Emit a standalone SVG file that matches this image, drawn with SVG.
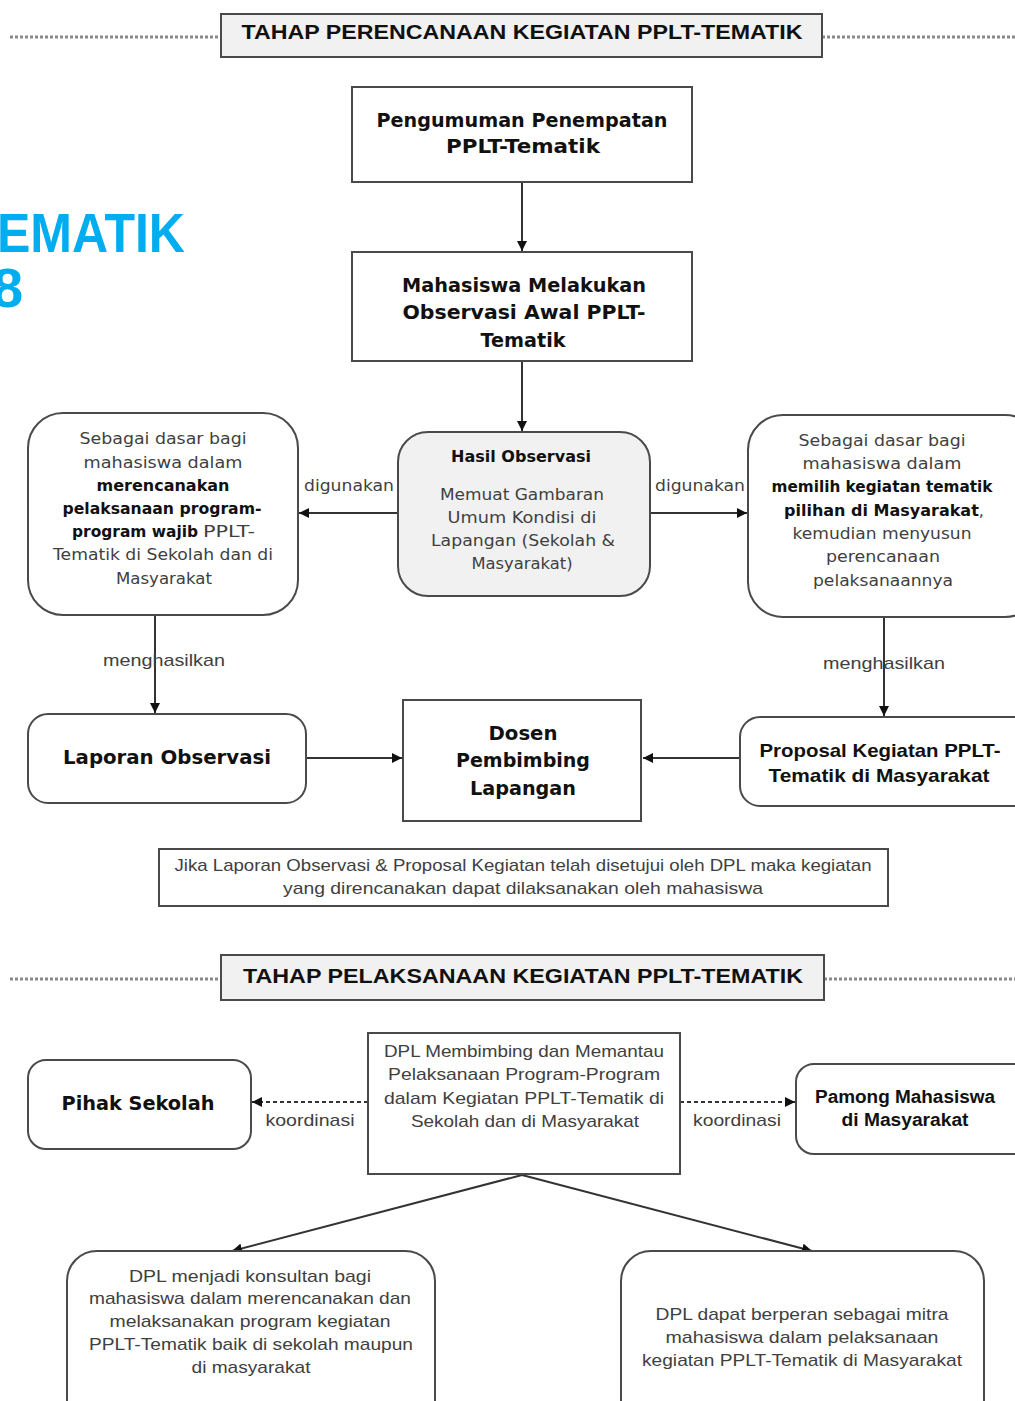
<svg xmlns="http://www.w3.org/2000/svg" width="1015" height="1401" viewBox="0 0 1015 1401">
<defs>
<marker id="arr" markerUnits="userSpaceOnUse" markerWidth="10" markerHeight="10" refX="10" refY="5" orient="auto">
<path d="M0,0 L10,5 L0,10 z" fill="#111"/>
</marker>
<style>
.box{fill:#fff;stroke:#4a4a4a;stroke-width:2}
.grey{fill:#f1f1f1;stroke:#4a4a4a;stroke-width:2}
.dot{stroke:#8a8a8a;stroke-width:3;stroke-dasharray:3 2;fill:none}
.ln{stroke:#333;stroke-width:2;fill:none}
.dash{stroke:#333;stroke-width:2;stroke-dasharray:4 3;fill:none}
.hd{font-family:"Liberation Sans",Arial,sans-serif;font-weight:bold;font-size:21px;fill:#111;text-anchor:middle}
.tb{font-family:"DejaVu Sans",Verdana,sans-serif;font-weight:bold;font-size:19px;fill:#111;text-anchor:middle}
.bd{font-family:"DejaVu Sans",Verdana,sans-serif;font-size:16px;fill:#404040;text-anchor:middle}
.bb{font-family:"DejaVu Sans",Verdana,sans-serif;font-weight:bold;font-size:16px;fill:#111;text-anchor:middle}
.cn{font-family:"Liberation Sans",Arial,sans-serif;font-size:17px;fill:#404040;text-anchor:middle}
.cb{font-family:"Liberation Sans",Arial,sans-serif;font-weight:bold;font-size:19px;fill:#111;text-anchor:middle}
.blue{font-family:"Liberation Sans",Arial,sans-serif;font-weight:bold;font-size:56px;fill:#00aeef}
</style>
</defs>
<rect width="1015" height="1401" fill="#fff"/>

<g id="title-bg">
<text class="blue" x="-3" y="252" textLength="188" lengthAdjust="spacingAndGlyphs">EMATIK</text>
<text class="blue" x="-8" y="307">8</text>
</g>

<g id="header1">
<line class="dot" x1="10" y1="37" x2="221" y2="37"/>
<line class="dot" x1="822" y1="37" x2="1015" y2="37"/>
<rect class="grey" x="221" y="14" width="601" height="43"/>
<text class="hd" x="522" y="39" textLength="561" lengthAdjust="spacingAndGlyphs">TAHAP PERENCANAAN KEGIATAN PPLT-TEMATIK</text>
</g>

<g id="connectors">
<line class="ln" x1="522" y1="182" x2="522" y2="251" marker-end="url(#arr)"/>
<line class="ln" x1="522" y1="361" x2="522" y2="431" marker-end="url(#arr)"/>
<line class="ln" x1="398" y1="513" x2="299" y2="513" marker-end="url(#arr)"/>
<line class="ln" x1="650" y1="513" x2="747" y2="513" marker-end="url(#arr)"/>
<line class="ln" x1="155" y1="615" x2="155" y2="713" marker-end="url(#arr)"/>
<line class="ln" x1="884" y1="617" x2="884" y2="716" marker-end="url(#arr)"/>
<line class="ln" x1="306" y1="758" x2="402" y2="758" marker-end="url(#arr)"/>
<line class="ln" x1="740" y1="758" x2="643" y2="758" marker-end="url(#arr)"/>
<line class="dash" x1="368" y1="1102" x2="252" y2="1102" marker-end="url(#arr)"/>
<line class="dash" x1="680" y1="1102" x2="795" y2="1102" marker-end="url(#arr)"/>
<line class="ln" x1="522" y1="1175" x2="232" y2="1251" marker-end="url(#arr)"/>
<line class="ln" x1="522" y1="1175" x2="812" y2="1251" marker-end="url(#arr)"/>
<text class="bd" x="349" y="491" textLength="90" lengthAdjust="spacingAndGlyphs">digunakan</text>
<text class="bd" x="700" y="491" textLength="90" lengthAdjust="spacingAndGlyphs">digunakan</text>
<text class="cn" x="164" y="666" textLength="122" lengthAdjust="spacingAndGlyphs">menghasilkan</text>
<text class="cn" x="884" y="669" textLength="122" lengthAdjust="spacingAndGlyphs">menghasilkan</text>
<text class="cn" x="310" y="1126" textLength="89" lengthAdjust="spacingAndGlyphs">koordinasi</text>
<text class="cn" x="737" y="1126" textLength="88" lengthAdjust="spacingAndGlyphs">koordinasi</text>
</g>

<g id="pengumuman">
<rect class="box" x="352" y="87" width="340" height="95"/>
<text class="tb" x="522" y="127" textLength="291" lengthAdjust="spacingAndGlyphs">Pengumuman Penempatan</text>
<text class="tb" x="523" y="153" textLength="154" lengthAdjust="spacingAndGlyphs">PPLT-Tematik</text>
</g>

<g id="observasi-awal">
<rect class="box" x="352" y="252" width="340" height="109"/>
<text class="tb" x="524" y="292" textLength="244" lengthAdjust="spacingAndGlyphs">Mahasiswa Melakukan</text>
<text class="tb" x="524" y="319" textLength="243" lengthAdjust="spacingAndGlyphs">Observasi Awal PPLT-</text>
<text class="tb" x="523" y="347" textLength="85" lengthAdjust="spacingAndGlyphs">Tematik</text>
</g>

<g id="hasil-observasi">
<rect class="grey" x="398" y="432" width="252" height="164" rx="30"/>
<text class="bb" x="521" y="462" textLength="140" lengthAdjust="spacingAndGlyphs">Hasil Observasi</text>
<text class="bd" x="522" y="500" textLength="164" lengthAdjust="spacingAndGlyphs">Memuat Gambaran</text>
<text class="bd" x="522" y="523" textLength="149" lengthAdjust="spacingAndGlyphs">Umum Kondisi di</text>
<text class="bd" x="523" y="546" textLength="184" lengthAdjust="spacingAndGlyphs">Lapangan (Sekolah &amp;</text>
<text class="bd" x="522" y="569" textLength="101" lengthAdjust="spacingAndGlyphs">Masyarakat)</text>
</g>

<g id="dasar-kiri">
<rect class="box" x="28" y="413" width="270" height="202" rx="35"/>
<text class="bd" x="163" y="444" textLength="167" lengthAdjust="spacingAndGlyphs">Sebagai dasar bagi</text>
<text class="bd" x="163" y="468" textLength="159" lengthAdjust="spacingAndGlyphs">mahasiswa dalam</text>
<text class="bb" x="163" y="491" textLength="133" lengthAdjust="spacingAndGlyphs">merencanakan</text>
<text class="bb" x="162" y="514" textLength="199" lengthAdjust="spacingAndGlyphs">pelaksanaan program-</text>
<text class="bb" x="72" y="537" style="text-anchor:start" textLength="126" lengthAdjust="spacingAndGlyphs">program wajib</text>
<text class="bd" x="203" y="537" style="text-anchor:start" textLength="52" lengthAdjust="spacingAndGlyphs">PPLT-</text>
<text class="bd" x="163" y="560" textLength="220" lengthAdjust="spacingAndGlyphs">Tematik di Sekolah dan di</text>
<text class="bd" x="164" y="584" textLength="96" lengthAdjust="spacingAndGlyphs">Masyarakat</text>
</g>

<g id="dasar-kanan">
<rect class="box" x="748" y="415" width="292" height="202" rx="35"/>
<text class="bd" x="882" y="446" textLength="167" lengthAdjust="spacingAndGlyphs">Sebagai dasar bagi</text>
<text class="bd" x="882" y="469" textLength="159" lengthAdjust="spacingAndGlyphs">mahasiswa dalam</text>
<text class="bb" x="882" y="492" textLength="221" lengthAdjust="spacingAndGlyphs">memilih kegiatan tematik</text>
<text class="bb" x="784" y="516" style="text-anchor:start">pilihan di Masyarakat<tspan style="font-weight:normal;fill:#404040">,</tspan></text>
<text class="bd" x="882" y="539" textLength="179" lengthAdjust="spacingAndGlyphs">kemudian menyusun</text>
<text class="bd" x="883" y="562" textLength="114" lengthAdjust="spacingAndGlyphs">perencanaan</text>
<text class="bd" x="883" y="586" textLength="140" lengthAdjust="spacingAndGlyphs">pelaksanaannya</text>
</g>

<g id="laporan-observasi">
<rect class="box" x="28" y="714" width="278" height="89" rx="20"/>
<text class="tb" x="167" y="764" textLength="208" lengthAdjust="spacingAndGlyphs">Laporan Observasi</text>
</g>

<g id="dosen-pembimbing">
<rect class="box" x="403" y="700" width="238" height="121"/>
<text class="tb" x="523" y="740" textLength="69" lengthAdjust="spacingAndGlyphs">Dosen</text>
<text class="tb" x="523" y="767" textLength="134" lengthAdjust="spacingAndGlyphs">Pembimbing</text>
<text class="tb" x="523" y="795" textLength="106" lengthAdjust="spacingAndGlyphs">Lapangan</text>
</g>

<g id="proposal">
<rect class="box" x="740" y="717" width="300" height="89" rx="20"/>
<text class="cb" x="880" y="757" textLength="241" lengthAdjust="spacingAndGlyphs">Proposal Kegiatan PPLT-</text>
<text class="cb" x="879" y="782" textLength="221" lengthAdjust="spacingAndGlyphs">Tematik di Masyarakat</text>
</g>

<g id="catatan">
<rect class="box" x="159" y="849" width="729" height="57"/>
<text class="cn" x="523" y="871" textLength="697" lengthAdjust="spacingAndGlyphs">Jika Laporan Observasi &amp; Proposal Kegiatan telah disetujui oleh DPL maka kegiatan</text>
<text class="cn" x="523" y="894" textLength="480" lengthAdjust="spacingAndGlyphs">yang direncanakan dapat dilaksanakan oleh mahasiswa</text>
</g>

<g id="header2">
<line class="dot" x1="10" y1="979" x2="221" y2="979"/>
<line class="dot" x1="824" y1="979" x2="1015" y2="979"/>
<rect class="grey" x="221" y="955" width="603" height="45"/>
<text class="hd" x="523" y="983" textLength="560" lengthAdjust="spacingAndGlyphs">TAHAP PELAKSANAAN  KEGIATAN PPLT-TEMATIK</text>
</g>

<g id="dpl-membimbing">
<rect class="box" x="368" y="1033" width="312" height="141"/>
<text class="cn" x="524" y="1057" textLength="280" lengthAdjust="spacingAndGlyphs">DPL Membimbing dan Memantau</text>
<text class="cn" x="524" y="1080" textLength="272" lengthAdjust="spacingAndGlyphs">Pelaksanaan Program-Program</text>
<text class="cn" x="524" y="1104" textLength="280" lengthAdjust="spacingAndGlyphs">dalam Kegiatan PPLT-Tematik di</text>
<text class="cn" x="525" y="1127" textLength="228" lengthAdjust="spacingAndGlyphs">Sekolah dan di Masyarakat</text>
</g>

<g id="pihak-sekolah">
<rect class="box" x="28" y="1060" width="223" height="89" rx="18"/>
<text class="tb" x="138" y="1110" textLength="153" lengthAdjust="spacingAndGlyphs">Pihak Sekolah</text>
</g>

<g id="pamong">
<rect class="box" x="796" y="1064" width="240" height="90" rx="18"/>
<text class="cb" x="905" y="1103" style="font-size:18px" textLength="180" lengthAdjust="spacingAndGlyphs">Pamong Mahasiswa</text>
<text class="cb" x="905" y="1126" style="font-size:18px" textLength="127" lengthAdjust="spacingAndGlyphs">di Masyarakat</text>
</g>

<g id="konsultan">
<rect class="box" x="67" y="1251" width="368" height="180" rx="30"/>
<text class="cn" x="250" y="1282" textLength="242" lengthAdjust="spacingAndGlyphs">DPL menjadi konsultan bagi</text>
<text class="cn" x="250" y="1304" textLength="322" lengthAdjust="spacingAndGlyphs">mahasiswa dalam merencanakan dan</text>
<text class="cn" x="250" y="1327" textLength="281" lengthAdjust="spacingAndGlyphs">melaksanakan program kegiatan</text>
<text class="cn" x="251" y="1350" textLength="324" lengthAdjust="spacingAndGlyphs">PPLT-Tematik baik di sekolah maupun</text>
<text class="cn" x="251" y="1373" textLength="119" lengthAdjust="spacingAndGlyphs">di masyarakat</text>
</g>

<g id="mitra">
<rect class="box" x="621" y="1251" width="363" height="180" rx="30"/>
<text class="cn" x="802" y="1320" textLength="293" lengthAdjust="spacingAndGlyphs">DPL dapat berperan sebagai mitra</text>
<text class="cn" x="802" y="1343" textLength="273" lengthAdjust="spacingAndGlyphs">mahasiswa dalam pelaksanaan</text>
<text class="cn" x="802" y="1366" textLength="320" lengthAdjust="spacingAndGlyphs">kegiatan PPLT-Tematik di Masyarakat</text>
</g>
</svg>
